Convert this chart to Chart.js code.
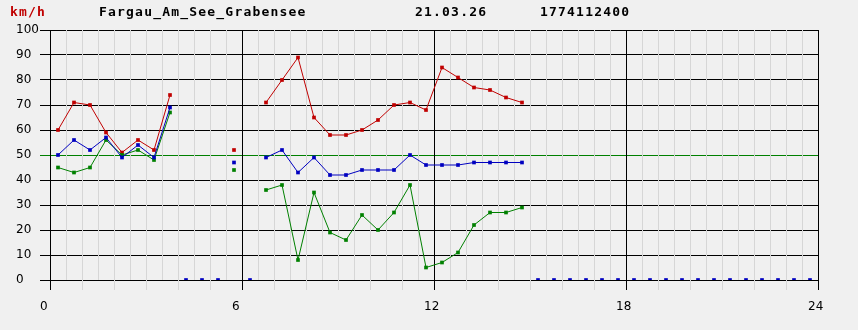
<!DOCTYPE html>
<html>
<head>
<meta charset="utf-8">
<script src="https://cdn.jsdelivr.net/npm/chart.js@4/dist/chart.umd.min.js"></script>
<style>
  html, body { margin: 0; padding: 0; background: #f0f0f0; }
  #wrap { position: relative; width: 858px; height: 330px; }
  #chart { position: absolute; left: 0; top: 0; }
  .hdr { position: absolute; top: 5px; font: bold 13px/13px "DejaVu Sans Mono", monospace; letter-spacing: 1.2px; color: #000; white-space: nowrap; }
  .unit { color: #c00000; }
</style>
</head>
<body>
<div id="wrap">
  <canvas id="chart" width="858" height="330"></canvas>
  <span class="hdr unit" style="left:10px">km/h</span>
  <span class="hdr" style="left:99px">Fargau_Am_See_Grabensee</span>
  <span class="hdr" style="left:415px">21.03.26</span>
  <span class="hdr" style="left:540px">1774112400</span>
</div>
<script>
// half-hourly slots (hour of day)
const hours = [0.25, 0.75, 1.25, 1.75, 2.25, 2.75, 3.25, 3.75, 4.25, 4.75, 5.25, 5.75,
  6.25, 6.75, 7.25, 7.75, 8.25, 8.75, 9.25, 9.75, 10.25, 10.75, 11.25, 11.75,
  12.25, 12.75, 13.25, 13.75, 14.25, 14.75, 15.25, 15.75, 16.25, 16.75, 17.25, 17.75,
  18.25, 18.75, 19.25, 19.75, 20.25, 20.75, 21.25, 21.75, 22.25, 22.75, 23.25, 23.75];

// km/h, null = no data
const gustMax = [60, 71, 70, 59, 51, 56, 52, 74, null, null, null, 52,
  null, 71, 80, 89, 65, 58, 58, 60, 64, 70, 71, 68,
  85, 81, 77, 76, 73, 71, null, null, null, null, null, null,
  null, null, null, null, null, null, null, null, null, null, null, null];
const windAvg = [50, 56, 52, 57, 49, 54, 49, 69, null, null, null, 47,
  null, 49, 52, 43, 49, 42, 42, 44, 44, 44, 50, 46,
  46, 46, 47, 47, 47, 47, null, null, null, null, null, null,
  null, null, null, null, null, null, null, null, null, null, null, null];
const windMin = [45, 43, 45, 56, 50, 52, 48, 67, null, null, null, 44,
  null, 36, 38, 8, 35, 19, 16, 26, 20, 27, 38, 5,
  7, 11, 22, 27, 27, 29, null, null, null, null, null, null,
  null, null, null, null, null, null, null, null, null, null, null, null];

const yTicks = [0, 10, 20, 30, 40, 50, 60, 70, 80, 90, 100];
const xLabels = [0, 6, 12, 18, 24];
const refLevel = 50;

const RED = '#c00000', BLUE = '#0000c0', GREEN = '#008000';

function series(vals) {
  return hours.map((h, i) => ({ x: h, y: vals[i] }));
}

function lineSet(label, vals, color, order) {
  return {
    label: label,
    data: series(vals),
    borderColor: color,
    backgroundColor: color,
    borderWidth: 1,
    pointStyle: 'rect',
    pointRadius: 2.6,
    pointBorderWidth: 0,
    pointBackgroundColor: color,
    spanGaps: false,
    order: order
  };
}

function isRef(c) {
  return yTicks[c.index] === refLevel;
}

// slots without data are marked on the zero line
const missing = hours.filter((h, i) => gustMax[i] === null).map(h => ({ x: h, y: 0 }));

new Chart(document.getElementById('chart'), {
  type: 'line',
  data: {
    datasets: [
      lineSet('max', gustMax, RED, 4),
      lineSet('min', windMin, GREEN, 3),
      lineSet('avg', windAvg, BLUE, 2),
      {
        label: 'nodata',
        data: missing,
        showLine: false,
        pointStyle: 'rect',
        pointRadius: 2.6,
        pointBorderWidth: 0,
        pointBackgroundColor: BLUE,
        order: 1
      }
    ]
  },
  options: {
    responsive: false,
    animation: false,
    devicePixelRatio: 1,
    layout: { padding: { left: 16, top: 30, right: 40, bottom: 0 } },
    plugins: { legend: { display: false }, tooltip: { enabled: false } },
    scales: {
      x: {
        type: 'linear',
        min: 0,
        max: 24,
        afterFit: s => { s.height = 50; },
        afterBuildTicks: s => {
          const t = [];
          for (let v = 0; v <= 24; v += 0.5) t.push({ value: v });
          s.ticks = t;
        },
        border: { display: false },
        grid: {
          z: -1,
          lineWidth: 1,
          tickLength: 10,
          color: c => (c.tick.value % 6 === 0 ? '#000' : '#d6d6d6'),
          tickColor: c => (c.tick.value % 6 === 0 ? '#000' : (c.tick.value % 1 === 0 ? '#d6d6d6' : 'rgba(0,0,0,0)'))
        },
        ticks: {
          autoSkip: false,
          maxRotation: 0,
          minRotation: 0,
          align: 'start',
          labelOffset: -10,
          padding: 10,
          color: '#000',
          font: { family: 'DejaVu Sans', size: 12 },
          callback: v => (xLabels.includes(v) ? String(v) : '')
        }
      },
      y: {
        min: 0,
        max: 100,
        afterFit: s => { s.width = 34; },
        afterBuildTicks: s => { s.ticks = yTicks.map(v => ({ value: v })); },
        border: { display: false },
        grid: {
          z: -2,
          lineWidth: 1,
          tickLength: 10,
          color: c => (isRef(c) ? GREEN : '#000'),
          tickColor: c => (isRef(c) ? GREEN : '#000')
        },
        ticks: {
          crossAlign: 'far',
          color: '#000',
          font: { family: 'DejaVu Sans', size: 12 }
        }
      }
    }
  }
});
</script>
</body>
</html>
